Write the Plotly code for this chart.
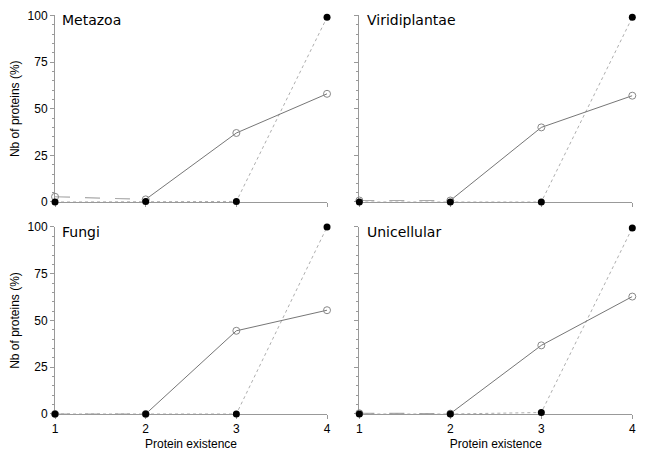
import plotly.graph_objects as go
from plotly.subplots import make_subplots

# protein existence levels on the x axis
pe_levels = [1, 2, 3, 4]

panels = ["Metazoa", "Viridiplantae", "Fungi", "Unicellular"]

# open circles (solid line)
open_metazoa = [2.8, 1.4, 37, 58]
open_viridiplantae = [0.8, 0.8, 40, 57]
open_fungi = [0, 0, 44.5, 55.5]
open_unicellular = [0.4, 0.2, 36.7, 62.8]

# filled circles (dotted line)
filled_metazoa = [0, 0.3, 0.3, 99]
filled_viridiplantae = [0, 0, 0, 99]
filled_fungi = [0, 0, 0, 100]
filled_unicellular = [0, 0, 0.8, 99.5]

open_vals = [open_metazoa, open_viridiplantae, open_fungi, open_unicellular]
filled_vals = [filled_metazoa, filled_viridiplantae, filled_fungi, filled_unicellular]

fig = make_subplots(rows=2, cols=2)

pos = [(1, 1), (1, 2), (2, 1), (2, 2)]
for i, (r, c) in enumerate(pos):
    # dashed first segment of the open series
    fig.add_trace(go.Scatter(x=pe_levels[:2], y=open_vals[i][:2], mode='lines',
                             line=dict(color='#aaaaaa', width=1.2, dash='longdash'),
                             showlegend=False, cliponaxis=False), row=r, col=c)
    # dotted line of the filled series
    fig.add_trace(go.Scatter(x=pe_levels, y=filled_vals[i], mode='lines',
                             line=dict(color='#999999', width=0.8, dash='dot'),
                             showlegend=False, cliponaxis=False), row=r, col=c)
    # solid part of the open series
    fig.add_trace(go.Scatter(x=pe_levels[1:], y=open_vals[i][1:], mode='lines',
                             line=dict(color='#666666', width=0.9),
                             showlegend=False, cliponaxis=False), row=r, col=c)
    fig.add_trace(go.Scatter(x=pe_levels, y=open_vals[i], mode='markers',
                             marker=dict(symbol='circle-open', color='#888888', size=7,
                                         line=dict(width=1)),
                             showlegend=False, cliponaxis=False), row=r, col=c)
    fig.add_trace(go.Scatter(x=pe_levels, y=filled_vals[i], mode='markers',
                             marker=dict(color='black', size=7),
                             showlegend=False, cliponaxis=False), row=r, col=c)

# panel geometry (page body adds an 8px offset)
xdom = {1: [0.0719, 0.4878], 2: [0.5372, 0.9546]}
ydom = {1: [0.5755, 0.9836], 2: [0.1116, 0.5208]}

for (r, c) in pos:
    fig.update_xaxes(domain=xdom[c], range=[1, 4], tickvals=pe_levels,
                     showticklabels=(r == 2), ticks='outside', ticklen=4,
                     tickcolor='#999999', showline=True, linecolor='#999999',
                     linewidth=1, showgrid=False, zeroline=False, automargin=False,
                     layer='below traces',
                     tickfont=dict(family='Liberation Sans', size=12, color='black'),
                     title_text='Protein existence' if r == 2 else None,
                     title_font=dict(family='Liberation Sans', size=12, color='black'),
                     title_standoff=4, row=r, col=c)
    fig.update_yaxes(domain=ydom[r], range=[0, 100], tickvals=[0, 25, 50, 75, 100],
                     showticklabels=(c == 1), ticks='outside', ticklen=4,
                     tickcolor='#999999', showline=True, linecolor='#999999',
                     linewidth=1, showgrid=False, zeroline=False, automargin=False,
                     layer='below traces',
                     minor=dict(dtick=5, ticks='outside', ticklen=2, tickcolor='#999999'),
                     tickfont=dict(family='Liberation Sans', size=12, color='black'),
                     title_text='Nb of proteins (%)' if c == 1 else None,
                     title_font=dict(family='Liberation Sans', size=12, color='black'),
                     title_standoff=6, row=r, col=c)

for i, (r, c) in enumerate(pos):
    fig.add_annotation(text=panels[i], x=xdom[c][0] + 0.008, y=ydom[r][1] + 0.012,
                       xref='paper', yref='paper', xanchor='left', yanchor='top',
                       showarrow=False, font=dict(family='DejaVu Sans', size=14, color='black'))

fig.update_layout(width=654, height=457, margin=dict(l=0, r=0, t=0, b=0),
                  plot_bgcolor='white', paper_bgcolor='white')

fig.write_html("out.html")
